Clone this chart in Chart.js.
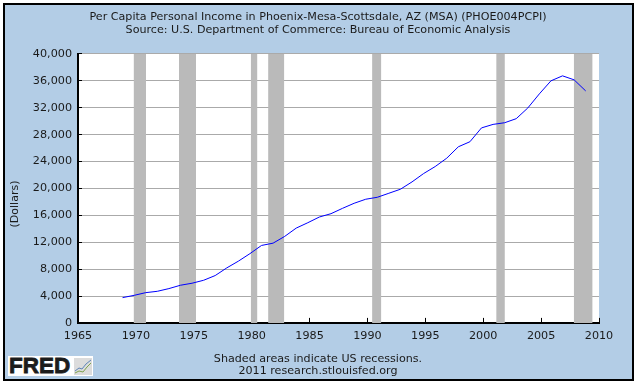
<!DOCTYPE html>
<html>
<head>
<meta charset="utf-8">
<script src="https://cdn.jsdelivr.net/npm/chart.js@4"></script>
<style>
  html, body { margin: 0; padding: 0; background: #fff; }
  #frame { position: absolute; left: 3px; top: 3px; width: 627px; height: 374px; border: 2px solid #000; background: #b3cde6; }
  #chart { position: absolute; left: 0; top: 0; }
  #logo { position: absolute; left: 8px; top: 356px; width: 85px; height: 20px; background: #fff; overflow: hidden; }
  #logo span { position: absolute; left: 1px; top: -1px; font: bold 22.5px/22px "Liberation Sans", sans-serif; color: #1c1c1c; -webkit-text-stroke: 0.8px #1c1c1c; }
  #logo svg { position: absolute; left: 66px; top: 2px; }
</style>
</head>
<body>
<div id="frame"></div>
<canvas id="chart" width="636" height="384"></canvas>
<div id="logo">
  <span>FRED</span>
  <svg width="18" height="17" viewBox="0 0 18 17">
    <rect width="18" height="17" fill="#dcdcdc"/>
    <polyline points="1,13 5,10 8,11 12,6 17,2" fill="none" stroke="#5f86b8" stroke-width="1"/>
    <polyline points="1,15 5,13 9,14 13,9 17,5" fill="none" stroke="#7fa350" stroke-width="1"/>
  </svg>
</div>
<script>
const titleLines = [
  'Per Capita Personal Income in Phoenix-Mesa-Scottsdale, AZ (MSA) (PHOE004PCPI)',
  'Source: U.S. Department of Commerce: Bureau of Economic Analysis'
];
const footerLines = ['Shaded areas indicate US recessions.', '2011 research.stlouisfed.org'];
const yAxisLabel = '(Dollars)';

const years = [1969, 1970, 1971, 1972, 1973, 1974, 1975, 1976, 1977, 1978,
  1979, 1980, 1981, 1982, 1983, 1984, 1985, 1986, 1987, 1988,
  1989, 1990, 1991, 1992, 1993, 1994, 1995, 1996, 1997, 1998,
  1999, 2000, 2001, 2002, 2003, 2004, 2005, 2006, 2007, 2008, 2009];
const income = [3760, 4100, 4500, 4700, 5100, 5600, 5900, 6340, 7040, 8180,
  9180, 10300, 11520, 11860, 12860, 14100, 14900, 15750, 16240, 17040,
  17790, 18390, 18680, 19280, 19880, 20970, 22210, 23250, 24500, 26190,
  26940, 29000, 29520, 29770, 30370, 31960, 34060, 36000, 36740, 36150, 34500];

const recessionStart = [1969.8, 1973.72, 1979.92, 1981.42, 1990.4, 2001.12, 2007.82];
const recessionEnd = [1970.88, 1975.2, 1980.5, 1982.82, 1991.2, 2001.87, 2009.45];

const xTicks = [1965, 1970, 1975, 1980, 1985, 1990, 1995, 2000, 2005, 2010];
const yTicks = [0, 4000, 8000, 12000, 16000, 20000, 24000, 28000, 32000, 36000, 40000];

const font = 'DejaVu Sans';
const textColor = '#1a1a1a';

// recession bands go in as filled two point series, under the income line
const bands = recessionStart.map(function (start, i) {
  return {
    data: [{ x: start, y: 40000 }, { x: recessionEnd[i], y: 40000 }],
    showLine: true,
    borderWidth: 0,
    pointRadius: 0,
    backgroundColor: '#bababa',
    fill: 'origin',
    order: 2
  };
});

const incomeLine = {
  // the annual points sit a little before the year tick in the original
  data: years.map(function (y, i) { return { x: y - 0.15, y: income[i] }; }),
  showLine: true,
  borderColor: '#0000ff',
  borderWidth: 1,
  pointRadius: 0,
  tension: 0,
  fill: false,
  order: 1
};

const plotBackground = {
  id: 'plotBackground',
  beforeDraw: function (chart) {
    const a = chart.chartArea;
    chart.ctx.fillStyle = '#fff';
    chart.ctx.fillRect(a.left, a.top, a.right - a.left, a.bottom - a.top);
  }
};

const yLabelPlugin = {
  id: 'yLabel',
  afterDraw: function (chart) {
    const ctx = chart.ctx;
    ctx.save();
    ctx.translate(15, 204);
    ctx.rotate(-Math.PI / 2);
    ctx.font = '11px "' + font + '"';
    ctx.fillStyle = textColor;
    ctx.textAlign = 'center';
    ctx.textBaseline = 'middle';
    ctx.fillText(yAxisLabel, 0, 0);
    ctx.restore();
  }
};

new Chart(document.getElementById('chart'), {
  type: 'scatter',
  data: { datasets: [incomeLine].concat(bands) },
  plugins: [plotBackground, yLabelPlugin],
  options: {
    responsive: false,
    animation: false,
    plugins: {
      legend: { display: false },
      tooltip: { enabled: false },
      title: {
        display: true,
        text: titleLines,
        color: textColor,
        font: { family: font, size: 11.13, weight: 'normal', lineHeight: 1.12 },
        padding: { top: 11, bottom: 18 }
      },
      subtitle: {
        display: true,
        position: 'bottom',
        text: footerLines,
        color: textColor,
        font: { family: font, size: 11.13, weight: 'normal', lineHeight: 1.15 },
        padding: { top: 0, bottom: 6 }
      }
    },
    scales: {
      x: {
        type: 'linear',
        min: 1965,
        max: 2010,
        afterBuildTicks: function (axis) { axis.ticks = xTicks.map(function (v) { return { value: v }; }); },
        afterFit: function (axis) { axis.height = 29.5; },
        border: { color: '#000', width: 2 },
        grid: { drawOnChartArea: false, color: '#000', tickLength: -5, tickColor: '#000', tickWidth: 1 },
        ticks: {
          color: textColor,
          font: { family: font, size: 11.2 },
          padding: 11,
          maxRotation: 0,
          autoSkip: false,
          callback: function (v) { return String(v); }
        }
      },
      y: {
        min: 0,
        max: 40000,
        afterBuildTicks: function (axis) { axis.ticks = yTicks.map(function (v) { return { value: v }; }); },
        afterFit: function (axis) { axis.width = 78; },
        border: { color: '#000', width: 2 },
        grid: { color: '#aaaaaa', lineWidth: 1, tickLength: -4, tickColor: '#000', tickWidth: 1 },
        ticks: {
          color: textColor,
          font: { family: font, size: 11.2 },
          padding: 10,
          autoSkip: false,
          callback: function (v) { return v.toLocaleString('en-US'); }
        }
      },
      // empty axis, only keeps the blue strip on the right of the plot
      rightGap: {
        position: 'right',
        min: 0,
        max: 1,
        afterFit: function (axis) { axis.width = 37; },
        border: { display: false },
        grid: { drawOnChartArea: false, drawTicks: false },
        ticks: { display: false }
      }
    }
  }
});
</script>
</body>
</html>
